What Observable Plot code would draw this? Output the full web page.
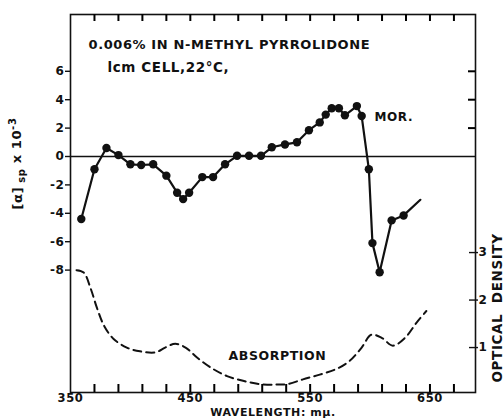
<!DOCTYPE html>
<html><head><meta charset="utf-8">
<script src="https://cdn.jsdelivr.net/npm/d3@7"></script>
<script src="https://cdn.jsdelivr.net/npm/@observablehq/plot@0.6"></script>
<style>
body{margin:0;background:#fff}
svg text{letter-spacing:0.6px}
</style>
</head><body><div id="chart"></div>
<script>
// MOR (optical rotatory dispersion), [α]sp × 10^-3
const morWavelength = [359,370,380,390,400,409,419,430,439,444,449,460,469,479,489,499,509,518,529,539,549,558,563,568,574,579,589,593,599,602,608,618,628];
const morValue = [-4.4,-0.9,0.6,0.1,-0.55,-0.6,-0.55,-1.35,-2.55,-3.0,-2.55,-1.45,-1.45,-0.55,0.05,0.05,0.05,0.65,0.85,1.0,1.85,2.4,2.95,3.4,3.4,2.9,3.55,2.85,-0.9,-6.1,-8.15,-4.5,-4.15];
// line continues past the last measured point (no dot)
const morTailWavelength = [642];
const morTailValue = [-3.05];

// Absorption (optical density, right axis)
const absWavelength = [355,361,367,372,378,386,397,408,421,429,437.5,446,455.6,467,480.6,494,508,522,531,544,558,572,583,593,601,610,619,629,639,647];
const absDensity = [2.63,2.58,2.23,1.84,1.46,1.18,1.0,0.92,0.90,1.0,1.08,1.0,0.79,0.58,0.40,0.30,0.23,0.22,0.23,0.33,0.43,0.55,0.72,1.0,1.27,1.2,1.04,1.2,1.53,1.77];

// Tick labels
const leftTicks = [-8,-6,-4,-2,0,2,4,6];
const rightInnerTicks = [2,4,6];
const odTicks = [1,2,3];
const xLabelTicks = [350,450,550,650];
const xMinorTicks = [370,390,410,430,450,470,490,510,530,550,570,590,610,630,650,670];

// Secondary (optical density) axis mapped onto the left scale
const odZero = -16.8, odUnit = 3.345;
const odToLeft = od => odZero + od * odUnit;
const leftToOd = v => (v - odZero) / odUnit;

const mor = morWavelength.map((w, i) => ({w, v: morValue[i]}));
const morLine = mor.concat(morTailWavelength.map((w, i) => ({w, v: morTailValue[i]})));
const abs = absWavelength.map((w, i) => ({w, v: odToLeft(absDensity[i])}));

const chartWidth = 504, chartHeight = 420;
const mLeft = 70, mRight = 29, mTop = 14, mBottom = 28;
const innerW = chartWidth - mLeft - mRight, innerH = chartHeight - mTop - mBottom;
const xDomain = [350, 688], yDomain = [-16.62, 10];
// tick lengths expressed in scale units
const yPerPx = (yDomain[1] - yDomain[0]) / innerH;
const xPerPx = (xDomain[1] - xDomain[0]) / innerW;
const ink = "#111";
const yLabel = "[α] sp x 10-3";
const plot = Plot.plot({
  width: chartWidth, height: chartHeight,
  marginLeft: mLeft, marginRight: mRight, marginTop: mTop, marginBottom: mBottom,
  x: {domain: xDomain},
  y: {domain: yDomain},
  style: {fontFamily: "DejaVu Sans", fontWeight: "bold", color: ink, background: "#fff", fontSize: "12px"},
  marks: [
    Plot.frame({stroke: ink, strokeWidth: 1.6}),
    Plot.ruleY([0], {stroke: ink, strokeWidth: 1.3}),
    Plot.axisY({anchor: "left", ticks: leftTicks, tickSize: 5, tickPadding: 1, tickFormat: d => String(d), fontSize: 12, strokeWidth: 1.4, label: null}),
    Plot.axisY({anchor: "right", ticks: odTicks.map(odToLeft), tickSize: 9, dx: -7, tickPadding: 1, tickFormat: v => String(Math.round(leftToOd(v))), fontSize: 12, strokeWidth: 1.4, label: null}),
    Plot.axisX({anchor: "bottom", ticks: xLabelTicks, tickSize: 0, tickPadding: 1, fontSize: 11.5, label: null}),
    Plot.line(abs, {x: "w", y: "v", stroke: ink, strokeWidth: 2, strokeDasharray: "8,5", curve: "catmull-rom"}),
    Plot.line(morLine, {x: "w", y: "v", stroke: ink, strokeWidth: 2.2, curve: "linear"}),
    Plot.dot(mor, {x: "w", y: "v", r: 4.2, fill: ink, stroke: "none"}),
    // inward ticks on the top, bottom and right borders
    Plot.ruleX(xMinorTicks, {x: d => d, y1: yDomain[1], y2: yDomain[1] - 7 * yPerPx, stroke: "#000", strokeWidth: 2}),
    Plot.ruleX(xMinorTicks, {x: d => d, y1: yDomain[0], y2: yDomain[0] + 8 * yPerPx, stroke: "#000", strokeWidth: 2}),
    Plot.ruleY(rightInnerTicks, {y: d => d, x1: xDomain[1] - 7 * xPerPx, x2: xDomain[1], stroke: "#000", strokeWidth: 2}),
    Plot.text(["0.006% IN N-METHYL PYRROLIDONE"], {frameAnchor: "top-left", dx: 18, dy: 30, textAnchor: "start", lineAnchor: "middle", fontSize: 13}),
    Plot.text(["lcm CELL,22°C,"], {frameAnchor: "top-left", dx: 37, dy: 53, textAnchor: "start", lineAnchor: "middle", fontSize: 13.5}),
    Plot.text(["MOR."], {frameAnchor: "top-left", dx: 304, dy: 103, textAnchor: "start", lineAnchor: "middle", fontSize: 12}),
    Plot.text(["ABSORPTION"], {frameAnchor: "top-left", dx: 158, dy: 341, textAnchor: "start", lineAnchor: "middle", fontSize: 12.5}),
    Plot.text([yLabel], {frameAnchor: "left", dx: -53, dy: -40, rotate: -90, textAnchor: "middle", lineAnchor: "middle", fontSize: 13}),
    Plot.text(["OPTICAL  DENSITY"], {frameAnchor: "bottom-right", dx: 22, dy: -10, rotate: -90, textAnchor: "start", lineAnchor: "middle", fontSize: 13.5}),
    Plot.text(["WAVELENGTH: mμ."], {frameAnchor: "bottom", dy: 20, textAnchor: "middle", lineAnchor: "middle", fontSize: 11})
  ]
});
// render subscript "sp" and superscript "-3" in the y label
d3.select(plot).selectAll("text").filter(function() { return this.textContent === yLabel; }).each(function() {
  const t = d3.select(this).text("");
  t.append("tspan").text("[α]");
  t.append("tspan").attr("dy", "0.3em").attr("font-size", "10px").text(" sp");
  t.append("tspan").attr("dy", "-0.3em").text(" x 10");
  t.append("tspan").attr("dy", "-0.45em").attr("font-size", "10px").text("-3");
});
document.getElementById("chart").appendChild(plot);
</script>
</body></html>
